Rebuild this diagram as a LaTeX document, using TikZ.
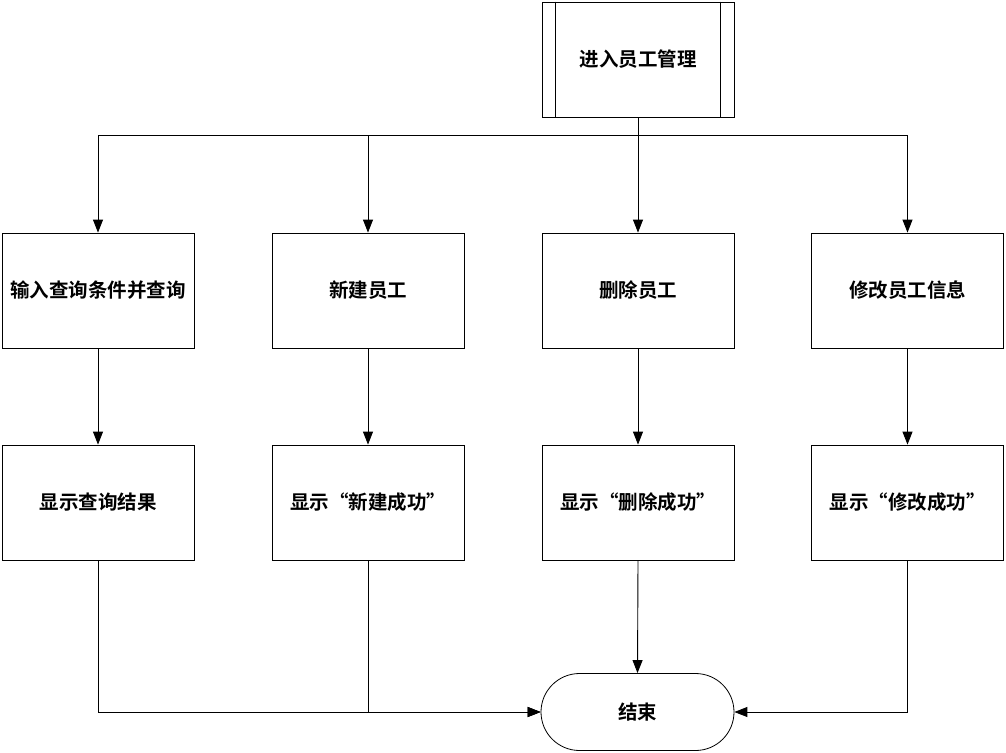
\documentclass[tikz,border=0pt]{standalone}
\usepackage{fontspec}
\setmainfont{Noto Sans CJK SC}[BoldFont={* Bold}]
\usetikzlibrary{arrows.meta,shapes.misc}
\begin{document}
\begin{tikzpicture}[x=1pt,y=-1pt,
  box/.style={draw,line width=0.8pt,minimum width=192pt,minimum height=115pt,inner sep=0pt,font=\fontsize{19.5pt}{22pt}\selectfont\bfseries},
  term/.style={draw,line width=0.8pt,rounded rectangle,minimum width=193pt,minimum height=77pt,inner sep=0pt,font=\fontsize{19.5pt}{22pt}\selectfont\bfseries},
  conn/.style={line width=0.9pt},
  arr/.style={conn,-{Triangle[length=13pt,width=10pt]}}]
\useasboundingbox (0,0) rectangle (1006,752);
\node[box] (top) at (638,59.5) {进入员工管理};
\draw[line width=0.8pt] ([xshift=14pt]top.north west) -- ([xshift=14pt]top.south west)
  ([xshift=-14pt]top.north east) -- ([xshift=-14pt]top.south east);
\node[box] (a1) at (98,290.5) {输入查询条件并查询};
\node[box] (b1) at (368,290.5) {新建员工};
\node[box] (c1) at (638,290.5) {删除员工};
\node[box] (d1) at (907.5,290.5) {修改员工信息};
\node[box] (a2) at (98,502.5) {显示查询结果};
\node[box] (b2) at (368,502.5) {显示“新建成功”};
\node[box] (c2) at (638,502.5) {显示“删除成功”};
\node[box] (d2) at (907.5,502.5) {显示“修改成功”};
\node[term] (end) at (637.5,712) {结束};
\coordinate (bus) at (638,135);
\draw[conn] (top.south) -- (bus);
\draw[arr] (bus) -| (a1.north);
\draw[arr] (bus) -| (b1.north);
\draw[arr] (bus) -- (c1.north);
\draw[arr] (bus) -| (d1.north);
\draw[arr] (a1) -- (a2);
\draw[arr] (b1) -- (b2);
\draw[arr] (c1) -- (c2);
\draw[arr] (d1) -- (d2);
\draw[arr] (a2.south) |- (end.west);
\draw[arr] (b2.south) |- (end.west);
\draw[arr] (c2.south) -- (end.north);
\draw[arr] (d2.south) |- (end.east);
\end{tikzpicture}
\end{document}
